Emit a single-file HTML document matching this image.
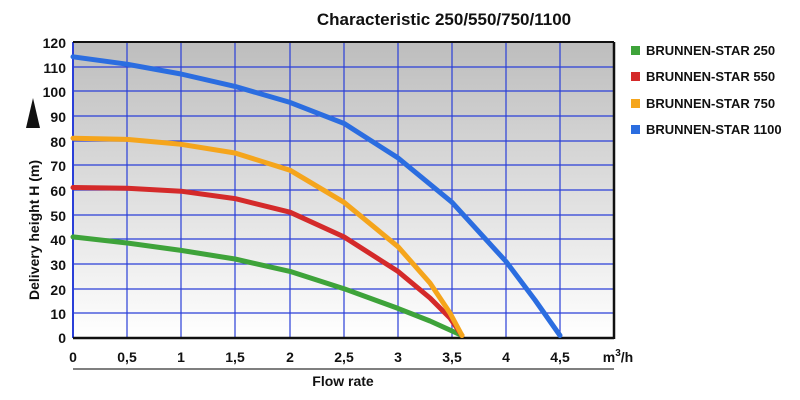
<!DOCTYPE html><html><head><style>body{margin:0;background:#fff}svg{display:block;font-family:"Liberation Sans",sans-serif;font-weight:bold}</style></head><body>
<svg width="800" height="400" viewBox="0 0 800 400">
<defs><linearGradient id="g" x1="0" y1="0" x2="0" y2="1"><stop offset="0" stop-color="#bdbdbd"/><stop offset="1" stop-color="#ffffff"/></linearGradient></defs>
<text x="444" y="25" font-size="17" text-anchor="middle" fill="#111">Characteristic 250/550/750/1100</text>
<rect x="73" y="42" width="541" height="296" fill="url(#g)"/>
<g stroke="#2a3fd8" stroke-width="1.2">
<line x1="127" y1="42" x2="127" y2="338"/><line x1="181" y1="42" x2="181" y2="338"/><line x1="235" y1="42" x2="235" y2="338"/><line x1="290" y1="42" x2="290" y2="338"/><line x1="344" y1="42" x2="344" y2="338"/><line x1="398" y1="42" x2="398" y2="338"/><line x1="452" y1="42" x2="452" y2="338"/><line x1="506" y1="42" x2="506" y2="338"/><line x1="560" y1="42" x2="560" y2="338"/>
<line x1="73" y1="67" x2="614" y2="67"/><line x1="73" y1="91" x2="614" y2="91"/><line x1="73" y1="116" x2="614" y2="116"/><line x1="73" y1="141" x2="614" y2="141"/><line x1="73" y1="165" x2="614" y2="165"/><line x1="73" y1="190" x2="614" y2="190"/><line x1="73" y1="215" x2="614" y2="215"/><line x1="73" y1="239" x2="614" y2="239"/><line x1="73" y1="264" x2="614" y2="264"/><line x1="73" y1="289" x2="614" y2="289"/><line x1="73" y1="313" x2="614" y2="313"/>
<line x1="73" y1="42" x2="73" y2="338" stroke-width="2"/>
</g>
<line x1="73" y1="42" x2="614" y2="42" stroke="#111" stroke-width="2"/>
<line x1="614" y1="42" x2="614" y2="339" stroke="#111" stroke-width="2.5"/>
<line x1="73" y1="338" x2="614" y2="338" stroke="#111" stroke-width="2.5"/>
<g fill="none" stroke-width="5" stroke-linecap="round" stroke-linejoin="round">
<polyline stroke="#3ea33a" points="73,236.9 127,243 181,250.4 235,259 290,271.4 344,288.7 398,308.4 430,321 462,335.5"/>
<polyline stroke="#d42a2a" points="73,187.5 127,188.3 181,191.2 235,198.6 290,212.2 344,236.9 398,271.4 430,298 450,318 462,335.5"/>
<polyline stroke="#f5a51c" points="73,138.2 127,139.4 181,144.3 235,153 290,170.2 344,202.3 398,246.7 430,283 450,313 462,335.5"/>
<polyline stroke="#2b6de0" points="73,56.8 127,64.2 181,74 235,86.4 290,102.4 344,123.4 398,157.9 452,202.3 506,261.5 535,300 560,335.5"/>
</g>
<g font-size="14" fill="#111" text-anchor="end">
<text x="66" y="48">120</text><text x="66" y="73">110</text><text x="66" y="97">100</text><text x="66" y="122">90</text><text x="66" y="147">80</text><text x="66" y="171">70</text><text x="66" y="196">60</text><text x="66" y="221">50</text><text x="66" y="245">40</text><text x="66" y="270">30</text><text x="66" y="295">20</text><text x="66" y="319">10</text><text x="66" y="343">0</text>
</g>
<g font-size="14" fill="#111" text-anchor="middle">
<text x="73" y="362">0</text><text x="127" y="362">0,5</text><text x="181" y="362">1</text><text x="235" y="362">1,5</text><text x="290" y="362">2</text><text x="344" y="362">2,5</text><text x="398" y="362">3</text><text x="452" y="362">3,5</text><text x="506" y="362">4</text><text x="560" y="362">4,5</text>
<text x="618" y="362">m<tspan font-size="10" dy="-6">3</tspan><tspan dy="6">/h</tspan></text>
<text x="343" y="386">Flow rate</text>
</g>
<line x1="73" y1="369" x2="614" y2="369" stroke="#555" stroke-width="1.5"/>
<polygon points="33,98 26,128 40,128" fill="#111"/>
<text transform="translate(39,300) rotate(-90)" font-size="14" fill="#111">Delivery height H (m)</text>
<g font-size="13" fill="#111">
<rect x="631" y="46" width="9" height="9" fill="#3ea33a"/><text x="646" y="55">BRUNNEN-STAR 250</text>
<rect x="631" y="72" width="9" height="9" fill="#d42a2a"/><text x="646" y="81">BRUNNEN-STAR 550</text>
<rect x="631" y="99" width="9" height="9" fill="#f5a51c"/><text x="646" y="108">BRUNNEN-STAR 750</text>
<rect x="631" y="125" width="9" height="9" fill="#2b6de0"/><text x="646" y="134">BRUNNEN-STAR 1100</text>
</g>
</svg></body></html>
